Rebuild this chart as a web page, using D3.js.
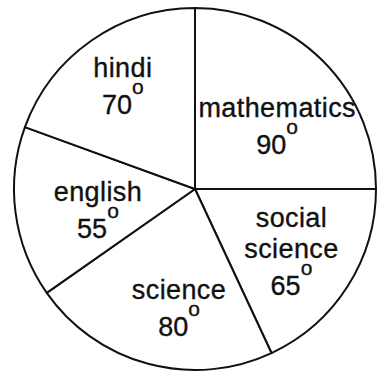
<!DOCTYPE html>
<html>
<head>
<meta charset="utf-8">
<script src="https://cdn.jsdelivr.net/npm/d3@7"></script>
<style>
  body { margin: 0; background: #fff; }
  text { font-family: "Liberation Sans", Arial, sans-serif; fill: #111; stroke: #111; stroke-width: 0.35px; }
</style>
</head>
<body>
<div id="chart"></div>
<script>
// subjects and their angles (degrees), clockwise from the top
const subjects = ["mathematics", "social science", "science", "english", "hindi"];
const degrees = [90, 65, 80, 55, 70];

//Width and height of svg
const w = 379;
const h = 373;
const cx = 195;
const cy = 189;
const radius = 181;
const labelRadius = 112;

// small label nudges so text sits like the original
const labelShift = {
  "mathematics": [3, 16],
  "social science": [2, 2],
  "science": [13, 11],
  "english": [14, 6],
  "hindi": [-8, -11]
};

const data = subjects.map((s, i) => ({ subject: s, value: degrees[i] }));

const pie = d3.pie()
  .sort(null)
  .value(d => d.value);

const arc = d3.arc()
  .innerRadius(0)
  .outerRadius(radius);

const labelArc = d3.arc()
  .innerRadius(labelRadius)
  .outerRadius(labelRadius);

//Create SVG element
const svg = d3.select("div#chart")
  .append("svg")
  .attr("width", w)
  .attr("height", h);

const g = svg.append("g")
  .attr("transform", `translate(${cx}, ${cy})`);

const arcs = pie(data);

g.selectAll("path")
  .data(arcs)
  .enter()
  .append("path")
    .attr("d", arc)
    .attr("fill", "#fff")
    .attr("stroke", "#111")
    .attr("stroke-width", 2)
    .attr("stroke-linejoin", "round");

const fontSize = 27;
const nameGap = 31;
const numberGap = 37;
const capHeight = 19;

const labels = g.selectAll("g.label")
  .data(arcs)
  .enter()
  .append("g")
    .attr("class", "label")
    .attr("transform", d => {
      const c = labelArc.centroid(d);
      const s = labelShift[d.data.subject];
      return `translate(${c[0] + s[0]}, ${c[1] + s[1]})`;
    });

labels.each(function(d) {
  const sel = d3.select(this);
  const lines = d.data.subject.split(" ");
  const blockH = capHeight + (lines.length - 1) * nameGap + numberGap;
  const y0 = -blockH / 2 + capHeight;

  lines.forEach((line, i) => {
    sel.append("text")
      .attr("text-anchor", "middle")
      .attr("y", y0 + i * nameGap)
      .attr("font-size", fontSize)
      .attr("letter-spacing", 0.4)
      .text(line);
  });

  // number with a raised "o" as the degree sign
  const num = sel.append("text")
    .attr("text-anchor", "middle")
    .attr("y", y0 + (lines.length - 1) * nameGap + numberGap)
    .attr("font-size", fontSize);
  num.append("tspan").text(d.data.value);
  num.append("tspan")
    .attr("font-size", 21)
    .attr("dy", -20)
    .text("o");
});
</script>
</body>
</html>
